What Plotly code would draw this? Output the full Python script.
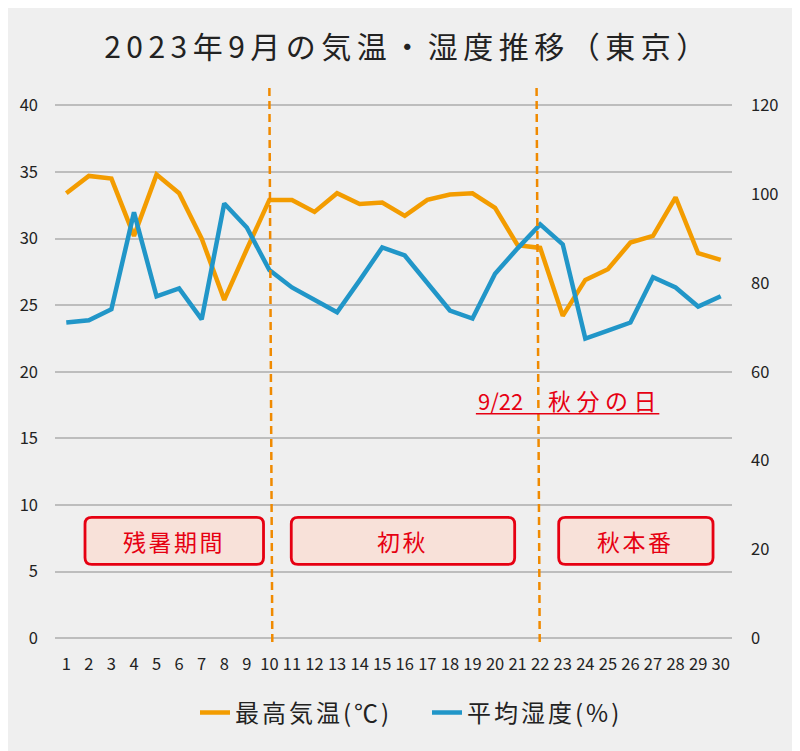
import plotly.graph_objects as go

days = list(range(1, 31))
day_labels = [str(d) for d in days]
max_temp = [33.4, 34.7, 34.5, 30.2, 34.8, 33.4, 30.0, 25.4, 29.2, 32.9,
            32.9, 32.0, 33.4, 32.6, 32.7, 31.7, 32.9, 33.3, 33.4, 32.3,
            29.5, 29.3, 24.2, 26.9, 27.7, 29.7, 30.2, 33.1, 28.9, 28.4]
humidity = [71.1, 71.6, 74.1, 95.9, 77.0, 78.8, 71.8, 97.9, 92.5, 82.9,
            79.0, 76.3, 73.4, 80.6, 88.0, 86.2, 80.1, 73.8, 72.0, 82.1,
            87.8, 93.2, 88.7, 67.5, 69.3, 71.1, 81.3, 79.0, 74.7, 77.0]
left_ticks = [0, 5, 10, 15, 20, 25, 30, 35, 40]
right_ticks = [0, 20, 40, 60, 80, 100, 120]
periods = ["残暑期間", "初秋", "秋本番"]
period_x = [(1.83, 9.74), (10.97, 20.87), (22.82, 29.66)]
divider_days = [(10.0, 10.13), (21.84, 21.98)]

FONT = "Noto Sans CJK JP"
ORANGE = "#f39c00"
BLUE = "#2196c8"
RED = "#e60012"


def spaced(text, px):
    return '<span style="letter-spacing:%spx">%s</span>' % (px, text)


def rounded_rect(x0, x1, y0, y1, rx=0.3, ry=0.5):
    return (f"M {x0 + rx},{y0} L {x1 - rx},{y0} Q {x1},{y0} {x1},{y0 + ry} "
            f"L {x1},{y1 - ry} Q {x1},{y1} {x1 - rx},{y1} "
            f"L {x0 + rx},{y1} Q {x0},{y1} {x0},{y1 - ry} "
            f"L {x0},{y0 + ry} Q {x0},{y0} {x0 + rx},{y0} Z")


fig = go.Figure()
fig.add_trace(go.Scatter(x=days, y=max_temp, name=spaced("最高気温(℃)", 3), mode="lines",
                         line=dict(color=ORANGE, width=4.5), yaxis="y"))
fig.add_trace(go.Scatter(x=days, y=humidity, name=spaced("平均湿度(%)", 3), mode="lines",
                         line=dict(color=BLUE, width=4.5), yaxis="y2"))

shapes = []
for (xa, xb) in divider_days:
    shapes.append(dict(type="line", xref="x", yref="y", x0=xa, x1=xb, y0=41.3, y1=-0.5,
                       line=dict(color="#f08a00", width=2.5, dash="8px,5px"), layer="above"))
for (xa, xb), label in zip(period_x, periods):
    shapes.append(dict(type="path", xref="x", yref="y", path=rounded_rect(xa, xb, 5.55, 9.08),
                       line=dict(color=RED, width=2.8), fillcolor="#f8e1d9", layer="above"))
    fig.add_annotation(x=(xa + xb) / 2, y=7.3, xref="x", yref="y", text=spaced(label, 2.5),
                       showarrow=False, font=dict(family=FONT, size=23, color=RED))
# underline for equinox note
shapes.append(dict(type="line", xref="x", yref="y", x0=19.15, x1=27.28, y0=16.85, y1=16.85,
                   line=dict(color=RED, width=1.5), layer="above"))
fig.add_annotation(x=20.23, y=17.85, xref="x", yref="y", text="9/22", showarrow=False,
                   xanchor="center", font=dict(family=FONT, size=22, color=RED))
fig.add_annotation(x=24.87, y=17.85, xref="x", yref="y", text=spaced("秋分の日", 5.5), showarrow=False,
                   xanchor="center", font=dict(family=FONT, size=23, color=RED))

fig.update_layout(
    width=800, height=751,
    paper_bgcolor="#efefef", plot_bgcolor="#efefef",
    margin=dict(l=45, r=76, t=80, b=114),
    font=dict(family=FONT, color="#222222"),
    title=dict(text=spaced("2023年9月の気温・湿度推移（東京）", 5.5), x=0.5,
               xref="container", xanchor="center",
               y=1 - 39 / 751, yref="container", yanchor="middle",
               font=dict(family=FONT, size=30, color="#222222")),
    shapes=shapes,
    showlegend=True,
    legend=dict(orientation="h", x=419 / 800, xanchor="center", xref="container",
                y=1 - 705 / 751, yref="container", yanchor="middle",
                font=dict(family=FONT, size=24, color="#222222"),
                entrywidth=187, entrywidthmode="pixels",
                itemwidth=30, bgcolor="rgba(0,0,0,0)"),
    xaxis=dict(range=[0.5, 30.5], tickmode="array", tickvals=days, ticktext=day_labels,
               showgrid=False, zeroline=False, showline=False, ticklabelstandoff=7,
               tickfont=dict(family=FONT, size=16.5, color="#222222")),
    yaxis=dict(range=[-0.5, 41.3], tickmode="array", tickvals=left_ticks,
               showgrid=True, gridcolor="#bdbdbd", gridwidth=2, zeroline=False,
               showline=False, ticklabelstandoff=16,
               tickfont=dict(family=FONT, size=16.5, color="#222222")),
    yaxis2=dict(range=[-1.5, 123.9], tickmode="array", tickvals=right_ticks,
                overlaying="y", side="right", showgrid=False, zeroline=False,
                showline=False, ticklabelstandoff=18,
                tickfont=dict(family=FONT, size=16.5, color="#222222")),
)

fig.write_html("out.html")
